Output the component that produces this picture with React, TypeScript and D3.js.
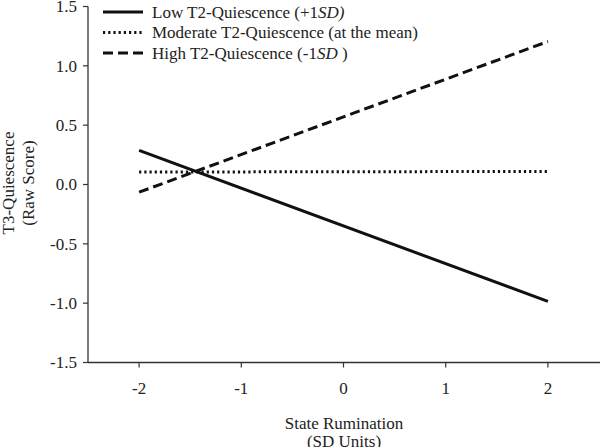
import React from "react";
import * as d3 from "d3";

const xValues = [-2, 2];
const lowSeries = [0.287, -0.985];
const moderateSeries = [0.105, 0.11];
const highSeries = [-0.065, 1.205];
const xTicks = [-2, -1, 0, 1, 2];
const yTicks = [-1.5, -1.0, -0.5, 0.0, 0.5, 1.0, 1.5];

const W = 600;
const H = 447;
const FONT = "'Liberation Serif', 'Times New Roman', serif";
const FS = 17;

export default function App() {
  const x = d3.scaleLinear().domain([-2.5, 2.5]).range([88, 599]);
  const y = d3.scaleLinear().domain([-1.5, 1.5]).range([362.5, 6.5]);
  const line = d3
    .line<[number, number]>()
    .x((d) => x(d[0]))
    .y((d) => y(d[1]));
  const mk = (vals: number[]) => xValues.map((v, i) => [v, vals[i]] as [number, number]);

  const series = [
    { vals: lowSeries, dash: undefined as string | undefined },
    { vals: moderateSeries, dash: "2.2,3" },
    { vals: highSeries, dash: "10,5" },
  ];

  const legendY = [12, 32.5, 53];

  return (
    <svg
      width={W}
      height={H}
      style={{ position: "absolute", left: 0, top: 0, background: "#fff" }}
      fontFamily={FONT}
    >
      {/* axes */}
      <line x1={88} x2={88} y1={y(1.5)} y2={y(-1.5)} stroke="#333" strokeWidth={1.3} />
      <line x1={88} x2={600} y1={y(-1.5)} y2={y(-1.5)} stroke="#333" strokeWidth={1.3} />
      {yTicks.map((t) => (
        <g key={"y" + t}>
          <line x1={83} x2={88} y1={y(t)} y2={y(t)} stroke="#333" strokeWidth={1.2} />
          <text x={77} y={y(t)} dy="0.35em" textAnchor="end" fontSize={FS} fill="#222">
            {t.toFixed(1)}
          </text>
        </g>
      ))}
      {xTicks.map((t) => (
        <g key={"x" + t}>
          <line x1={x(t)} x2={x(t)} y1={y(-1.5)} y2={y(-1.5) + 5} stroke="#333" strokeWidth={1.2} />
          <text x={x(t)} y={388} dy="0.35em" textAnchor="middle" fontSize={FS} fill="#222">
            {String(t)}
          </text>
        </g>
      ))}
      {/* axis titles */}
      <text x={344} y={429} textAnchor="middle" fontSize={FS} fill="#222">
        State Rumination
      </text>
      <text x={344} y={447} textAnchor="middle" fontSize={FS} fill="#222">
        (SD Units)
      </text>
      <g transform="translate(14,183) rotate(-90)">
        <text x={0} y={0} textAnchor="middle" fontSize={FS} fill="#222">
          T3-Quiescence
        </text>
        <text x={0} y={20} textAnchor="middle" fontSize={FS} fill="#222">
          (Raw Score)
        </text>
      </g>
      {/* data lines */}
      {series.map((s, i) => (
        <path
          key={"s" + i}
          d={line(mk(s.vals)) || ""}
          fill="none"
          stroke="#111"
          strokeWidth={3}
          strokeDasharray={s.dash}
        />
      ))}
      {/* legend */}
      {series.map((s, i) => (
        <line
          key={"l" + i}
          x1={103}
          x2={143}
          y1={legendY[i]}
          y2={legendY[i]}
          stroke="#111"
          strokeWidth={3}
          strokeDasharray={s.dash}
        />
      ))}
      <text x={152} y={legendY[0]} dy="0.35em" fontSize={FS} fill="#222">
        Low T2-Quiescence (+1<tspan fontStyle="italic">SD)</tspan>
      </text>
      <text x={152} y={legendY[1]} dy="0.35em" fontSize={FS} fill="#222">
        Moderate T2-Quiescence (at the mean)
      </text>
      <text x={152} y={legendY[2]} dy="0.35em" fontSize={FS} fill="#222">
        High T2-Quiescence (-1<tspan fontStyle="italic">SD</tspan> )
      </text>
    </svg>
  );
}
